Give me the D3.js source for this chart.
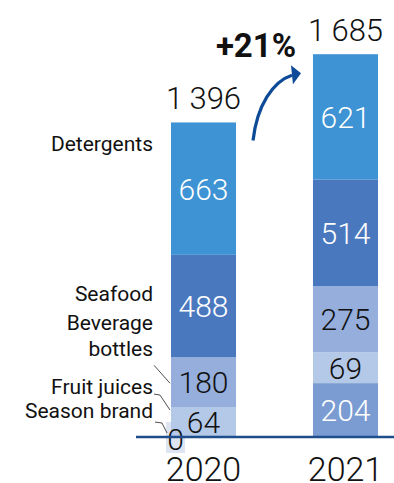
<!DOCTYPE html>
<html>
<head>
<meta charset="utf-8">
<script src="https://cdn.jsdelivr.net/npm/d3@7"></script>
<style>
  body { margin: 0; background: #fff; }
  svg { display: block; font-family: Roboto, "Open Sans", sans-serif; }
</style>
</head>
<body>
<div id="chart"></div>
<script>
// data
var years = ["2020", "2021"];
var categories = ["Season brand", "Fruit juices", "Beverage bottles", "Seafood", "Detergents"];
var values2020 = [0, 64, 180, 488, 663];
var values2021 = [204, 69, 275, 514, 621];
var totals = [1396, 1685];
var changeLabel = "+21%";

var colors = ["#7b9cd2", "#b4c8e7", "#95aedb", "#4a78be", "#3d93d3"];
var labelColors = ["#fff", "#111", "#111", "#fff", "#fff"];

var W = 394, H = 483;
var base = 437;

var svg = d3.select("#chart").append("svg")
    .attr("width", W)
    .attr("height", H);

var x = d3.scaleBand()
    .domain(years)
    .range([171, 378])
    .paddingInner(0.542)
    .paddingOuter(0);

// segment height: designed chart, small parts get a minimum so labels fit
var h = d3.scaleLinear()
    .domain([0, 700])
    .range([19, 19 + 0.171 * 700]);

function stack(vals) {
  var y = base, out = [];
  vals.forEach(function(v, i) {
    var hh = v > 0 ? h(v) : 0;
    out.push({i: i, v: v, bottom: y, top: y - hh, h: hh});
    y -= hh;
  });
  return out;
}

var series = [values2020, values2021];
var stacks = series.map(stack);

// "0" box for season brand 2020
var zeroSeg = stacks[0][0];
svg.append("rect")
    .attr("x", x("2020") - 5)
    .attr("y", base - 15)
    .attr("width", 19)
    .attr("height", 31)
    .attr("fill", "#dde5f2");

stacks.forEach(function(st, k) {
  var g = svg.append("g");
  var bx = x(years[k]), bw = x.bandwidth();
  g.selectAll("rect").data(st.filter(function(d){ return d.v > 0; }))
    .enter().append("rect")
      .attr("x", bx)
      .attr("y", function(d){ return d.top; })
      .attr("width", bw)
      .attr("height", function(d){ return d.h; })
      .attr("fill", function(d){ return colors[d.i]; });

  g.selectAll("text.val").data(st.filter(function(d){ return d.v > 0; }))
    .enter().append("text")
      .attr("class", "val")
      .attr("x", bx + bw / 2)
      .attr("y", function(d){ return (d.bottom + d.top) / 2 + 11; })
      .attr("text-anchor", "middle")
      .attr("font-size", 30)
      .attr("font-weight", 300)
      .attr("fill", function(d){ return labelColors[d.i]; })
      .text(function(d){ return d.v; });

  var top = st[st.length - 1].top;
  var t = String(totals[k]);
  svg.append("text")
      .attr("x", bx + bw / 2)
      .attr("y", top - 13)
      .attr("text-anchor", "middle")
      .attr("font-size", 31)
      .attr("font-weight", 300)
      .attr("fill", "#111")
      .text(t.slice(0, 1) + "\u2009" + t.slice(1));

  svg.append("text")
      .attr("x", bx + bw / 2)
      .attr("y", 481)
      .attr("text-anchor", "middle")
      .attr("font-size", 34)
      .attr("font-weight", 300)
      .attr("fill", "#111")
      .text(years[k]);
});

// zero label
svg.append("text")
    .attr("x", x("2020") + 4.5)
    .attr("y", base + 13)
    .attr("text-anchor", "middle")
    .attr("font-size", 30)
    .attr("font-weight", 300)
    .attr("fill", "#111")
    .text(zeroSeg.v);

// baseline
svg.append("line")
    .attr("x1", 136).attr("x2", W)
    .attr("y1", base).attr("y2", base)
    .attr("stroke", "#1f4e8c")
    .attr("stroke-width", 2.5);

// category labels on the left, placed against the 2020 bar
var s0 = stacks[0];
var lx = 153;
var lab = svg.append("g")
    .attr("font-size", 21)
    .attr("fill", "#111")
    .attr("text-anchor", "end");

lab.append("text").attr("x", lx).attr("y", s0[4].top + 29).text(categories[4]);
lab.append("text").attr("x", lx).attr("y", s0[3].top + 46).text(categories[3]);
lab.append("text").attr("x", lx).attr("y", s0[2].top - 27).text("Beverage");
lab.append("text").attr("x", lx).attr("y", s0[2].top - 1).text("bottles");
lab.append("text").attr("x", lx).attr("y", s0[1].top - 13).text(categories[1]);
lab.append("text").attr("x", lx).attr("y", base - 19).text(categories[0]);

var leader = d3.line();
var leaders = [
  [[154, s0[2].top + 8], [170, s0[2].top + 26]],
  [[154, s0[1].top - 13], [160, s0[1].top - 12], [170, s0[1].top + 3]],
  [[155, base - 15], [162, base - 14], [167, base - 4]]
];
svg.selectAll("path.leader").data(leaders)
  .enter().append("path")
    .attr("class", "leader")
    .attr("d", leader)
    .attr("fill", "none")
    .attr("stroke", "#222")
    .attr("stroke-width", 0.8);

// growth arrow
var top0 = stacks[0][4].top, top1 = stacks[1][4].top;
var ax0 = x("2020") + x.bandwidth() + 17, ay0 = top0 + 18;
var ax1 = x("2021") - 12, ay1 = top1 + 19;
svg.append("path")
    .attr("d", "M" + ax0 + "," + ay0 +
      " C" + (ax0 + 4) + "," + (ay0 - 35) + " " + (ax0 + 20) + "," + (ay1 + 8) + " " + (ax1 - 9) + "," + (ay1 + 2))
    .attr("fill", "none")
    .attr("stroke", "#0d4a97")
    .attr("stroke-width", 3.2);
svg.append("path")
    .attr("d", "M" + (ax1 - 10) + "," + (ay1 - 8) + " L" + ax1 + "," + ay1 + " L" + (ax1 - 8) + "," + (ay1 + 11) + "Z")
    .attr("fill", "#0d4a97");

svg.append("text")
    .attr("x", 256)
    .attr("y", 57)
    .attr("text-anchor", "middle")
    .attr("font-size", 33)
    .attr("font-weight", 700)
    .attr("fill", "#111")
    .text(changeLabel);
</script>
</body>
</html>
